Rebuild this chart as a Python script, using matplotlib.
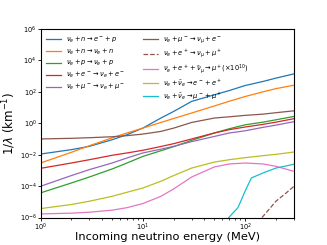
import numpy as np
import matplotlib
matplotlib.use("Agg")
import matplotlib.pyplot as plt

# ================================
# DATA (log10 of 1/lambda in km^-1)
# ================================

energy = [1, 2, 3, 5, 7, 10, 15, 20, 30, 50, 70, 100, 150, 200, 300]

nue_n_cc = [-1.96, -1.68, -1.47, -1.05, -0.73, -0.31, 0.33, 0.75, 1.39, 1.81, 2.08, 2.40, 2.66, 2.87, 3.14]
nue_n_nc = [-2.53, -1.85, -1.43, -0.93, -0.62, -0.31, 0.05, 0.30, 0.65, 1.10, 1.40, 1.70, 2.00, 2.20, 2.42]
nue_p_nc = [-4.43, -3.80, -3.42, -2.91, -2.53, -2.11, -1.75, -1.49, -1.09, -0.62, -0.35, -0.10, 0.07, 0.22, 0.43]
nue_e_es = [-2.87, -2.53, -2.32, -2.04, -1.89, -1.72, -1.48, -1.30, -1.00, -0.62, -0.41, -0.24, -0.07, 0.07, 0.29]
nue_mu_es = [-4.01, -3.33, -2.95, -2.53, -2.21, -1.89, -1.65, -1.47, -1.17, -0.84, -0.62, -0.48, -0.26, -0.12, 0.10]
nue_mu_cc = [-1.00, -0.96, -0.92, -0.86, -0.79, -0.69, -0.52, -0.31, 0.05, 0.33, 0.41, 0.50, 0.58, 0.67, 0.79]
nue_nuebar_ee = [-5.43, -5.17, -4.96, -4.65, -4.39, -4.12, -3.69, -3.33, -2.85, -2.47, -2.32, -2.19, -2.06, -1.98, -1.83]
nue_epos_3body = [-5.77, -5.72, -5.66, -5.53, -5.37, -5.11, -4.65, -4.18, -3.42, -2.78, -2.59, -2.53, -2.59, -2.74, -3.06]

energy_mumu = [68, 85, 100, 115, 150, 200, 300]
nue_nuebar_mumu = [-6.05, -5.37, -4.31, -3.48, -3.16, -2.85, -2.61]

energy_epos = [146, 170, 200, 250, 300]
nue_epos_mu = [-6.0, -5.5, -4.96, -4.45, -4.01]

labels = [
    r"$\nu_e + n \rightarrow e^- + p$",
    r"$\nu_e + n \rightarrow \nu_e + n$",
    r"$\nu_e + p \rightarrow \nu_e + p$",
    r"$\nu_e + e^- \rightarrow \nu_e + e^-$",
    r"$\nu_e + \mu^- \rightarrow \nu_e + \mu^-$",
    r"$\nu_e + \mu^- \rightarrow \nu_\mu + e^-$",
    r"$\nu_e + e^+ \rightarrow \nu_\mu + \mu^+$",
    r"$\nu_e + e^+ + \bar{\nu}_\mu \rightarrow \mu^+ (\times 10^{10})$",
    r"$\nu_e + \bar{\nu}_e \rightarrow e^- + e^+$",
    r"$\nu_e + \bar{\nu}_e \rightarrow \mu^- + \mu^+$",
]

# ================================
# PLOT
# ================================

fig = plt.figure(figsize=(3.27, 2.45), dpi=100)
ax = fig.add_axes([0.124, 0.112, 0.775, 0.770])

lw = 0.9
series = [
    (energy, nue_n_cc, "tab:blue", "-"),
    (energy, nue_n_nc, "tab:orange", "-"),
    (energy, nue_p_nc, "tab:green", "-"),
    (energy, nue_e_es, "tab:red", "-"),
    (energy, nue_mu_es, "tab:purple", "-"),
    (energy, nue_mu_cc, "tab:brown", "-"),
    (energy_epos, nue_epos_mu, "tab:brown", "--"),
    (energy, nue_epos_3body, "tab:pink", "-"),
    (energy, nue_nuebar_ee, "tab:olive", "-"),
    (energy_mumu, nue_nuebar_mumu, "tab:cyan", "-"),
]

for (x, logy, color, ls), label in zip(series, labels):
    ax.plot(x, 10.0 ** np.array(logy), color=color, linestyle=ls, linewidth=lw, label=label)

ax.set_xscale("log")
ax.set_yscale("log")
ax.set_xlim(1, 300)
ax.set_ylim(1e-6, 1e6)
ax.set_yticks([1e-6, 1e-4, 1e-2, 1e0, 1e2, 1e4, 1e6])
ax.yaxis.set_minor_locator(matplotlib.ticker.NullLocator())
ax.tick_params(labelsize=4.8, length=2, width=0.6, pad=0.8)
ax.tick_params(which="minor", length=1.3, width=0.5)
for sp in ax.spines.values():
    sp.set_linewidth(0.8)

ax.set_xlabel("Incoming neutrino energy (MeV)", fontsize=8.2)
ax.xaxis.set_label_coords(0.5, -0.075)
ax.set_ylabel(r"1/$\lambda$ (km$^{-1}$)", fontsize=8.5)
ax.yaxis.set_label_coords(-0.09, 0.5)

ax.legend(loc="upper left", ncol=2, frameon=False, fontsize=4.8,
          handlelength=2.2, columnspacing=2.7, labelspacing=0.25,
          borderaxespad=0.4)

fig.savefig("out.png", dpi=100)
